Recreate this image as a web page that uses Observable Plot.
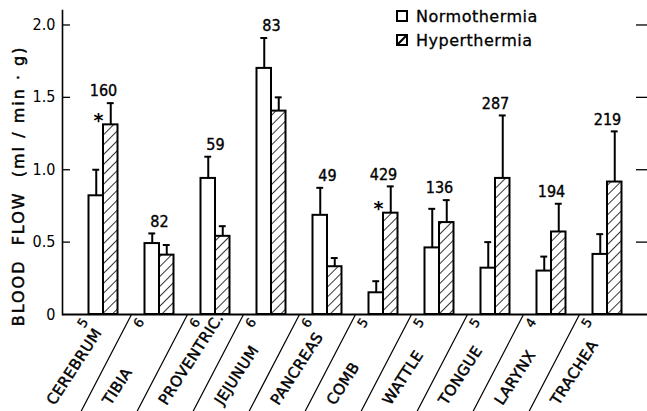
<!DOCTYPE html>
<html>
<head>
<meta charset="utf-8">
<script src="https://cdn.jsdelivr.net/npm/d3@7"></script>
<script src="https://cdn.jsdelivr.net/npm/@observablehq/plot@0.6"></script>
<style>
  html, body { margin: 0; padding: 0; background: white; overflow: hidden; }
  #wrap { position: relative; width: 647px; height: 411px; overflow: hidden; }
  #legend { position: absolute; left: 396px; top: 10px; font-family: "DejaVu Sans", sans-serif; font-size: 16px; letter-spacing: 0.5px; color: #000; -webkit-text-stroke: 0.3px black; }
  #legend .row { display: flex; align-items: center; height: 12px; margin-bottom: 12px; }
  #legend svg { margin-right: 8px; }
</style>
</head>
<body>
<div id="wrap">
  <div id="chart"></div>
  <div id="legend"></div>
</div>
<script>
// ---- data ----
const categories = ["CEREBRUM", "TIBIA", "PROVENTRIC.", "JEJUNUM", "PANCREAS", "COMB", "WATTLE", "TONGUE", "LARYNX", "TRACHEA"];
const sampleSize = [5, 6, 6, 6, 6, 5, 5, 5, 4, 5];
const normo      = [0.82, 0.49, 0.94, 1.70, 0.685, 0.15, 0.46, 0.32, 0.30, 0.415];
const normoTop   = [1.00, 0.56, 1.09, 1.91, 0.875, 0.23, 0.73, 0.50, 0.40, 0.555];
const hyper      = [1.31, 0.41, 0.54, 1.405, 0.33, 0.70, 0.635, 0.94, 0.57, 0.915];
const hyperTop   = [1.46, 0.48, 0.61, 1.50, 0.39, 0.885, 0.79, 1.375, 0.765, 1.265];
const percent    = [160, 82, 59, 83, 49, 429, 136, 287, 194, 219];
const significant = [true, false, false, false, false, true, false, false, false, false];
const seriesNames = ["Normothermia", "Hyperthermia"];
const yTicks = [0, 0.5, 1.0, 1.5, 2.0];
const yLabel = "BLOOD  FLOW  (ml / min · g)";

// ---- tables built from the arrays ----
const normoRows = categories.map((c, i) => ({cat: c, value: normo[i], top: normoTop[i]}));
const hyperRows = categories.map((c, i) => ({cat: c, value: hyper[i], top: hyperTop[i]}));
const catRows = categories.map((c, i) => ({
  cat: c, n: sampleSize[i], pct: percent[i],
  maxTop: Math.max(normoTop[i], hyperTop[i]), hyper: hyper[i], sig: significant[i]
}));

const numFont = "'DejaVu Sans Condensed', 'Liberation Sans Narrow', 'DejaVu Sans', sans-serif";
const txtFont = "'DejaVu Sans', sans-serif";
const thick = { stroke: "black", strokeWidth: 0.45 };

const lineShape = { draw(context, l) { context.moveTo(0, 0); context.lineTo(0, -l); } };

const chart = Plot.plot({
  width: 647,
  height: 411,
  marginLeft: 62,
  marginRight: 0,
  marginTop: 10,
  marginBottom: 97,
  style: { fontFamily: txtFont, background: "white", color: "black" },
  x: { type: "band", domain: categories, paddingInner: 0, paddingOuter: 0.214, axis: null },
  y: { domain: [0, 2.1] },
  marks: [
    Plot.frame({ anchor: "left", stroke: "black", strokeWidth: 1.6 }),
    Plot.ruleY([0], { stroke: "black", strokeWidth: 2 }),
    // inward ticks left and right
    Plot.tickY(yTicks.slice(1), { stroke: "black", strokeWidth: 1.3, insetRight: 577 }),
    Plot.tickY(yTicks.slice(1), { stroke: "black", strokeWidth: 1.3, insetLeft: 574 }),
    Plot.axisY({
      ticks: yTicks, tickSize: 0, tickPadding: 7, label: null,
      tickFormat: d => d === 0 ? "0" : d.toFixed(1),
      fontSize: 16, fontFamily: numFont, ...thick, strokeWidth: 0.35
    }),
    Plot.text([yLabel], {
      frameAnchor: "left", textAnchor: "middle", y: 0.888, dx: -44, rotate: -90, text: d => d,
      fontSize: 16, fontFamily: txtFont, fill: "black", ...thick
    }),
    // bars
    Plot.barY(normoRows, { x: "cat", y: "value", fill: "white", stroke: "black", strokeWidth: 2, insetLeft: 13.5, insetRight: 28 }),
    Plot.barY(hyperRows, { x: "cat", y: "value", fill: "url(#hatch)", stroke: "black", strokeWidth: 2, insetLeft: 28, insetRight: 13.5 }),
    // error bars (upper only)
    Plot.ruleX(normoRows, { x: "cat", y1: "value", y2: "top", dx: -7.25, stroke: "black", strokeWidth: 2 }),
    Plot.ruleX(hyperRows, { x: "cat", y1: "value", y2: "top", dx: 7.25, stroke: "black", strokeWidth: 2 }),
    Plot.tickY(normoRows, { x: "cat", y: "top", insetLeft: 17.3, insetRight: 31.8, stroke: "black", strokeWidth: 2 }),
    Plot.tickY(hyperRows, { x: "cat", y: "top", insetLeft: 31.8, insetRight: 17.3, stroke: "black", strokeWidth: 2 }),
    // percent labels
    Plot.text(catRows, { x: "cat", y: "maxTop", dy: -12, text: d => String(d.pct), fontSize: 16, fontFamily: numFont, fill: "black", ...thick, strokeWidth: 0.35 }),
    // significance asterisks
    Plot.text(catRows.filter(d => d.sig), { x: "cat", y: "hyper", dx: -5, dy: -4, text: () => "*", fontSize: 19, fontWeight: "bold", fontFamily: txtFont, fill: "black" }),
    // category separators
    Plot.vector(catRows.slice(1), { x: "cat", y: 0, dx: -28, length: 125, rotate: 207.5, anchor: "start", shape: lineShape, stroke: "black", strokeWidth: 1.2 }),
    // sample sizes
    Plot.text(catRows, { x: "cat", y: 0, dx: -20.5, dy: 8.5, rotate: -57, text: d => String(d.n), fontSize: 13, fontFamily: txtFont, fill: "black", ...thick, strokeWidth: 0.3 }),
    // category labels
    Plot.text(catRows, { x: "cat", y: 0, dx: -53, dy: 89, rotate: -57, textAnchor: "start", text: "cat", fontSize: 15, fontFamily: txtFont, fill: "black", ...thick })
  ]
});

// hatch pattern definition
const svgEl = chart.tagName.toLowerCase() === "svg" ? chart : chart.querySelector("svg");
const svgSel = d3.select(svgEl);
const defs = svgSel.insert("defs", ":first-child");
const pat = defs.append("pattern").attr("id", "hatch").attr("patternUnits", "userSpaceOnUse")
  .attr("width", 7).attr("height", 7).attr("patternTransform", "rotate(45)");
pat.append("rect").attr("width", 7).attr("height", 7).attr("fill", "white");
pat.append("line").attr("x1", 0).attr("y1", 0).attr("x2", 0).attr("y2", 7).attr("stroke", "black").attr("stroke-width", 1.6);

// letter spacing for the axis title and category names
svgSel.selectAll("text").each(function() {
  const t = this.textContent;
  if (t === yLabel) this.style.letterSpacing = "2px";
  else if (categories.includes(t)) this.style.letterSpacing = "0.4px";
});

document.getElementById("chart").appendChild(chart);

// legend
const legend = d3.select("#legend");
seriesNames.forEach((name, i) => {
  const row = legend.append("div").attr("class", "row");
  const s = row.append("svg").attr("width", 12).attr("height", 12);
  s.append("rect").attr("x", 1).attr("y", 1).attr("width", 10).attr("height", 10)
    .attr("fill", "white").attr("stroke", "black").attr("stroke-width", 2);
  if (i === 1) s.append("line").attr("x1", 1).attr("y1", 11).attr("x2", 11).attr("y2", 1).attr("stroke", "black").attr("stroke-width", 2.2);
  row.append("span").text(name);
});
</script>
</body>
</html>
